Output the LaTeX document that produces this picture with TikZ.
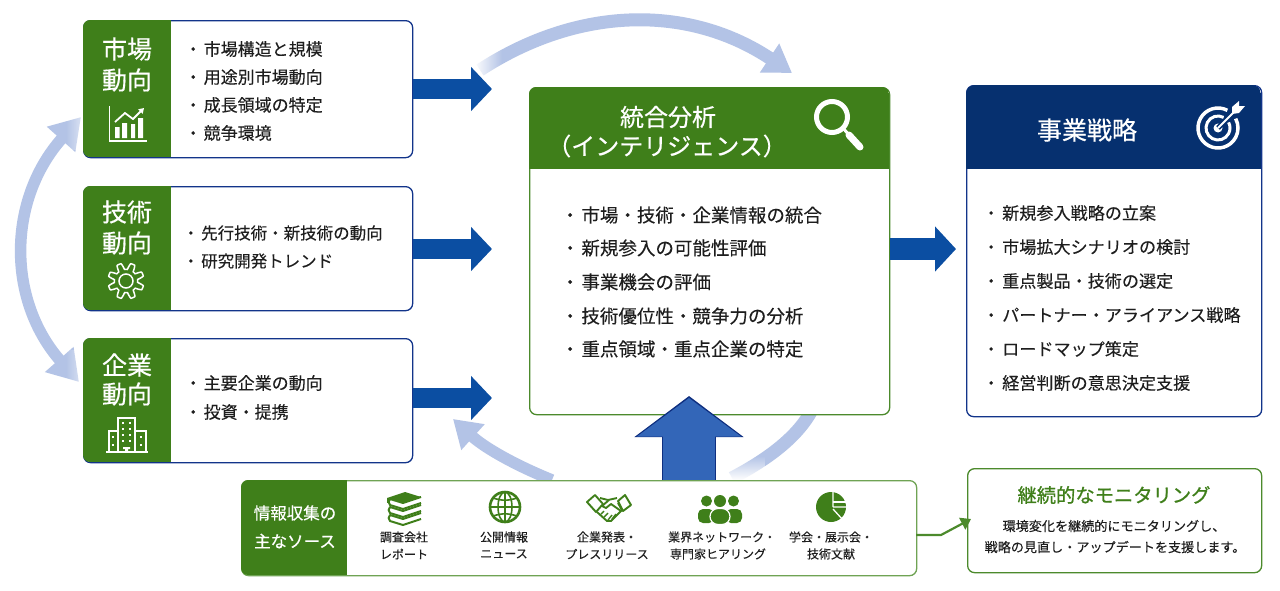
\documentclass[tikz,border=0pt]{standalone}
\usepackage{fontspec}
\setmainfont[FakeBold=0.12]{Noto Sans CJK JP}
\newfontfamily\medf[FakeBold=0.45]{Noto Sans CJK JP}
\newfontfamily\strongf[FakeBold=0.9]{Noto Sans CJK JP}
\usetikzlibrary{arrows.meta,fadings,calc}
\definecolor{cardgreen}{HTML}{3F7F1A}
\definecolor{edgegreen}{HTML}{4C8A2C}
\definecolor{palegreen}{HTML}{6FA354}
\definecolor{navy}{HTML}{06306F}
\definecolor{edgenavy}{HTML}{12348A}
\definecolor{blockblue}{HTML}{0B4EA2}
\definecolor{upblue}{HTML}{3366B8}
\definecolor{upedge}{HTML}{0F2F80}
\definecolor{paleblue}{HTML}{B3C3E6}
\definecolor{inktext}{HTML}{1E1E1E}
\tikzset{
  x=1pt,y=-1pt,
  card/.style={draw=#1,line width=1.3pt,fill=white,rounded corners=7pt,inner sep=0pt,anchor=north west},
  itemtext/.style={anchor=west,inner sep=0pt,text=inktext,font=\fontsize{#1}{#1}\selectfont},
  labeltext/.style={inner sep=0pt,text=white,font=\fontsize{#1}{#1}\selectfont\medf},
  smalltext/.style={inner sep=0pt,text=inktext,font=\fontsize{#1}{#1}\selectfont},
  blockarrow/.style={line width=20pt,blockblue,-{Triangle[length=21pt,width=43pt]}},
  palearrow/.style={line width=#1,paleblue},
  palehead/.style={-{Triangle[length=27pt,width=33pt]}},
  whiteicon/.style={white,line width=1.5pt},
  greenicon/.style={cardgreen,line width=2pt,line join=round},
  declare function={gearr(\t)=14.8+3.2*max(min(1.8*sin(8*\t),1),-1);},
}
\newcommand{\leftpanel}[5]{\begin{scope}\clip[rounded corners=7pt] (#1,#2) rectangle ({#3+30},#4);\fill[#5] (#1,#2) rectangle (#3,#4);\end{scope}}
\begin{document}
\begin{tikzpicture}
\useasboundingbox (0,0) rectangle (1280,590);
\fill[white] (0,0) rectangle (1280,590);

% named free ends
\coordinate (topStart) at (480,70);
\coordinate (topEnd) at (792,73);
\coordinate (leftTop) at (81,117);
\coordinate (leftBot) at (79,382);
\coordinate (lowStart) at (552,480);
\coordinate (lowEnd) at (453,419);
\coordinate (riseStart) at (732,478);
\coordinate (riseEnd) at (812,410);
\coordinate (mktTip) at (492,89);
\coordinate (tecTip) at (492,249);
\coordinate (comTip) at (492,398);
\coordinate (intTip) at (956,249);
\coordinate (upTip) at (689,396);
\coordinate (srcOut) at (916,535);
\coordinate (bendPt) at (941,535);
\coordinate (monIn) at (971,519);

% pale arcs
\draw[palearrow=13pt,palehead] (topStart) .. controls (580,5) and (690,5) .. (topEnd);
\draw[palearrow=11.5pt,{Triangle[length=30pt,width=36pt]}-{Triangle[length=30pt,width=36pt]}] (leftTop) .. controls (7,200) and (7,300) .. (leftBot);
\draw[palearrow=11.5pt,palehead] (lowStart) .. controls (515,465) and (485,448) .. (lowEnd);
\draw[palearrow=13pt] (riseStart) .. controls (770,458) and (798,436) .. (riseEnd);
\fill[white,path fading=east] (474,50) rectangle (502,90);
\fill[white,path fading=north] (720,456) rectangle (765,480);
\fill[white,opacity=0.6,path fading=west] (66,108) rectangle (84,150);
\fill[white,opacity=0.6,path fading=west] (66,350) rectangle (84,390);

% cards
\node[card=edgenavy,minimum width=329pt,minimum height=137pt] (mkt) at (83,20) {};
\node[card=edgenavy,minimum width=329pt,minimum height=124pt] (tec) at (83,186) {};
\node[card=edgenavy,minimum width=329pt,minimum height=124pt] (com) at (83,338) {};
\node[card=edgegreen,minimum width=360pt,minimum height=327pt] (int) at (529,87) {};
\node[card=edgenavy,minimum width=295pt,minimum height=331pt] (str) at (966,85) {};
\leftpanel{83}{20}{171}{157}{cardgreen}
\leftpanel{83}{186}{171}{310}{cardgreen}
\leftpanel{83}{338}{171}{462}{cardgreen}
\begin{scope}\clip[rounded corners=7pt] (529,87) rectangle (889,250);\fill[cardgreen] (529,87) rectangle (889,169);\end{scope}
\begin{scope}\clip[rounded corners=9pt] (966,85) rectangle (1261,250);\fill[navy] (966,85) rectangle (1261,169);\end{scope}

% up arrow, block arrows
\draw[line width=54pt,upedge,-{Triangle[length=41pt,width=107pt]}] (689,480) -- (upTip);
\draw[line width=52pt,upblue,-{Triangle[length=38.5pt,width=102pt]}] (689,480) -- ($(upTip)+(0,2)$);
\draw[blockarrow] (mkt.east |- mktTip) -- (mktTip);
\draw[blockarrow] (tec.east |- tecTip) -- (tecTip);
\draw[blockarrow] (com.east |- comTip) -- (comTip);
\draw[blockarrow,line width=22pt,-{Triangle[length=21pt,width=44pt]}] (int.east |- intTip) -- (intTip);

% sources + monitoring
\node[card=palegreen,minimum width=675pt,minimum height=95pt] (src) at (241,480) {};
\leftpanel{241}{480}{347}{575}{cardgreen}
\node[card=edgegreen,minimum width=294pt,minimum height=104pt] (mon) at (967,468) {};
\draw[edgegreen,line width=2.2pt,-{Triangle[length=10pt,width=13pt]}] (srcOut) -- (bendPt) -- (monIn);

% left labels
\node[labeltext=25] (l1a) at (127,49) {市場};
\node[labeltext=25] (l1b) at (127,80) {動向};
\node[labeltext=25] (l2a) at (127,212) {技術};
\node[labeltext=25] (l2b) at (127,243) {動向};
\node[labeltext=25] (l3a) at (127,365) {企業};
\node[labeltext=25] (l3b) at (127,394) {動向};

% chart icon
\draw[whiteicon] (109.5,106) -- (109.5,141) -- (147,141);
\fill[white] (115,127) rectangle (119.5,138) (122,123) rectangle (127,138) (131,124) rectangle (135,138) (138,118) rectangle (143,138);
\draw[whiteicon,line width=1.8pt,-{Triangle[length=5pt,width=6pt]}] (115,122) -- (125,113) -- (133,119) -- (144,108);
% gear icon
\draw[whiteicon,domain=0:360,samples=289,variable=\t] plot ({126+gearr(\t-11)*cos(\t)},{281+gearr(\t-11)*sin(\t)}) -- cycle;
\draw[whiteicon] (126,281) circle (7);
% building icon
\draw[whiteicon] (106,452) -- (148,452);
\draw[whiteicon] (118,452) -- (118,418) -- (135,418) -- (135,452);
\draw[whiteicon] (118,431) -- (109,431) -- (109,452);
\draw[whiteicon] (135,431) -- (146,431) -- (146,452);
\foreach \wx in {123,130} \foreach \wy in {423,429,435,441} \fill[white] (\wx-1,\wy-1) rectangle (\wx+1,\wy+1);
\foreach \wx in {113,141} \foreach \wy in {437,445} \fill[white] (\wx-1,\wy-1) rectangle (\wx+1,\wy+1);
\fill[white] (123,447) rectangle (130,449) (125,449) rectangle (128,452);

% items
\node[itemtext=17] (m1) at (184.5,49) {・\hspace{2pt}市場構造と規模};
\node[itemtext=17] (m2) at (184.5,77) {・\hspace{2pt}用途別市場動向};
\node[itemtext=17] (m3) at (184.5,105) {・\hspace{2pt}成長領域の特定};
\node[itemtext=17] (m4) at (184.5,133) {・\hspace{2pt}競争環境};
\node[itemtext=16.5] (t1) at (182.5,233) {・\hspace{2pt}先行技術・新技術の動向};
\node[itemtext=16.5] (t2) at (182.5,261) {・\hspace{2pt}研究開発トレンド};
\node[itemtext=17] (c1) at (184.5,383) {・\hspace{2pt}主要企業の動向};
\node[itemtext=17] (c2) at (184.5,412) {・\hspace{2pt}投資・提携};

% integration
\node[labeltext=24] (i1) at (668,117) {統合分析};
\node[labeltext=24] (i2) at (667,146) {（インテリジェンス）};
\node[itemtext=18.5] (a1) at (560.75,215) {・\hspace{2pt}市場・技術・企業情報の統合};
\node[itemtext=18.5] (a2) at (560.75,248) {・\hspace{2pt}新規参入の可能性評価};
\node[itemtext=18.5] (a3) at (560.75,282) {・\hspace{2pt}事業機会の評価};
\node[itemtext=18.5] (a4) at (560.75,316) {・\hspace{2pt}技術優位性・競争力の分析};
\node[itemtext=18.5] (a5) at (560.75,349) {・\hspace{2pt}重点領域・重点企業の特定};
\draw[white,line width=5pt] (832,117) circle (15.5);
\draw[white,line width=3pt] (843,128) -- (849,135);
\draw[white,line width=7pt,line cap=round] (849,135) -- (860,147);

% strategy
\node[labeltext=25] (s0) at (1087,130) {事業戦略};
\node[itemtext=17.1] (s1) at (982.4,213) {・\hspace{2.5pt}新規参入戦略の立案};
\node[itemtext=17.1] (s2) at (982.4,247) {・\hspace{2.5pt}市場拡大シナリオの検討};
\node[itemtext=17.1] (s3) at (982.4,281) {・\hspace{2.5pt}重点製品・技術の選定};
\node[itemtext=17.1] (s4) at (982.4,315) {・\hspace{2.5pt}パートナー・アライアンス戦略};
\node[itemtext=17.1] (s5) at (982.4,349) {・\hspace{2.5pt}ロードマップ策定};
\node[itemtext=17.1] (s6) at (982.4,383) {・\hspace{2.5pt}経営判断の意思決定支援};
% target icon
\draw[white,line width=3.5pt] (1218,128) ++(-62:20) arc[start angle=-62,end angle=-388,radius=20];
\draw[white,line width=3pt] (1218,128) ++(-62:12) arc[start angle=-62,end angle=-388,radius=12];
\fill[white] (1218,128) circle (4.5);
\draw[navy,line width=5pt] (1218,128) -- (1234,112);
\draw[white,line width=2pt] (1218,128) -- (1236,110);
\fill[white] (1232,114) -- (1232,107) -- (1239,101) -- (1239,106) -- (1245,106) -- (1239,113) -- cycle;

% sources text
\node[labeltext=16.5] (g1) at (295,513) {情報収集の};
\node[labeltext=16.5] (g2) at (295,541) {主なソース};
\node[smalltext=12] (x1a) at (404,537) {調査会社};
\node[smalltext=12] (x1b) at (404,554) {レポート};
\node[smalltext=12] (x2a) at (504,537) {公開情報};
\node[smalltext=12] (x2b) at (504,554) {ニュース};
\node[smalltext=12] (x3a) at (607,537) {企業発表・};
\node[smalltext=12] (x3b) at (607,554) {プレスリリース};
\node[smalltext=12] (x4a) at (722,537) {業界ネットワーク・};
\node[smalltext=12] (x4b) at (718,554) {専門家ヒアリング};
\node[smalltext=12] (x5a) at (831,537) {学会・展示会・};
\node[smalltext=12] (x5b) at (831,554) {技術文献};

% books icon
\fill[cardgreen] (387,498) -- (405,492) -- (421,497) -- (403,503) -- cycle;
\foreach \by in {0,8,16} {
  \draw[greenicon] (421,{497+\by}) -- (403,{503+\by}) -- (390,{499+\by}) to[bend right=50] (390,{505+\by}) -- (403,{509+\by}) -- (421,{503+\by});
}
\draw[greenicon] (388,498) -- (388,503);
% globe icon
\draw[greenicon,line width=2.6pt] (505,507) circle (15);
\draw[greenicon,line width=1.6pt] (505,507) ellipse (7 and 15);
\draw[greenicon,line width=1.6pt] (505,492) -- (505,522) (490,507) -- (520,507);
\draw[greenicon,line width=1.6pt] (493,498) to[bend right=18] (517,498) (493,516) to[bend left=18] (517,516);
% handshake icon
\draw[greenicon,line width=1.9pt] (587,502) -- (595,495) -- (603,504) -- (596,512) -- cycle;
\draw[greenicon,line width=1.9pt] (618,501) -- (625,495) -- (631,505) -- (623,511) -- cycle;
\draw[greenicon,line width=1.9pt] (600,498) -- (608,500) -- (617,498) (618,503) -- (622,510) -- (611,521) -- (607,521) -- (597,512);
\draw[greenicon,line width=1.9pt] (609,500) -- (602,506) -- (606,508) -- (611,504) -- (621,511);
\draw[greenicon,line width=1.4pt] (601,514) -- (604,511) (604,517) -- (608,513) (608,520) -- (612,515) (612,519) -- (616,514);
% people icon
\fill[cardgreen] (706.5,501) circle (5.5) (720,501) circle (6) (733.5,501) circle (5.5);
\fill[cardgreen,rounded corners=5pt] (698,523) rectangle (714,509);
\fill[cardgreen,rounded corners=5pt] (726,523) rectangle (742,509);
\draw[fill=cardgreen,draw=white,line width=1.2pt,rounded corners=8pt] (710,524.5) rectangle (730,508.5);
% pie icon
\fill[cardgreen] (831,507) circle (15);
\draw[white,line width=1.3pt] (833,507) -- (833,490) (833,507) -- (848,507) (833,509) -- (843,520);
\draw[white,line width=1.3pt] (833,502) -- (848,502);

% monitoring
\node[inner sep=0pt,text=cardgreen,font=\fontsize{19.3}{19}\selectfont\strongf] (n0) at (1114,495) {継続的なモニタリング};
\node[smalltext=13.1] (n1) at (1114,526) {環境変化を継続的にモニタリングし、};
\node[smalltext=13.1] (n2) at (1115,547) {戦略の見直し・アップデートを支援します。};
\end{tikzpicture}
\end{document}
